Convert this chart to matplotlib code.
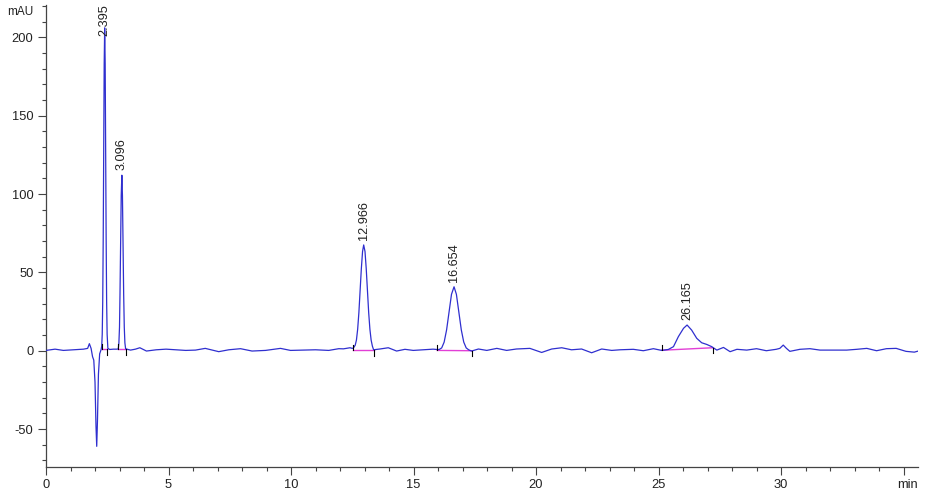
import matplotlib
matplotlib.use("Agg")
import matplotlib.pyplot as plt
from matplotlib.ticker import MultipleLocator

plt.rcParams['font.family'] = ['Liberation Sans', 'DejaVu Sans']
plt.rcParams['axes.unicode_minus'] = False

# chromatogram trace (time in min, signal in mAU)
time_min = [
    0.0, 0.37, 0.71, 1.12, 1.53, 1.70, 1.77, 1.84, 1.90, 1.95,
    2.00, 2.04, 2.07, 2.10, 2.14, 2.19, 2.25, 2.275,
    2.295, 2.315, 2.335, 2.355, 2.375, 2.395, 2.415, 2.435, 2.455, 2.475, 2.495, 2.525,
    2.60, 2.75, 2.90, 2.95, 2.975,
    3.00, 3.02, 3.045, 3.07, 3.096, 3.12, 3.145, 3.17, 3.195, 3.22, 3.25,
    3.45, 3.65, 3.83, 4.10, 4.5, 4.9, 5.3, 5.7, 6.1, 6.5, 7.05, 7.46, 7.94,
    8.41, 8.96, 9.57, 9.98, 10.46, 11.0, 11.54, 11.95, 12.14, 12.41, 12.50,
    12.55, 12.62, 12.67, 12.72, 12.77, 12.82, 12.87, 12.92, 12.966, 13.02,
    13.07, 13.12, 13.17, 13.22, 13.27, 13.32, 13.37,
    13.63, 13.97, 14.31, 14.65, 14.99, 15.4, 15.8, 15.95,
    16.05, 16.15, 16.25, 16.35, 16.45, 16.55, 16.654, 16.75, 16.85, 16.95,
    17.05, 17.15, 17.25, 17.37,
    17.65, 17.99, 18.4, 18.8, 19.2, 19.75, 20.23, 20.64, 21.05, 21.45, 21.86,
    22.27, 22.68, 23.09, 23.43, 23.97, 24.38, 24.79, 25.13, 25.40,
    25.61, 25.81, 26.02, 26.165, 26.35, 26.56, 26.76, 26.97, 27.17, 27.38,
    27.65, 27.92, 28.2, 28.6, 29.0, 29.4, 29.8, 29.95, 30.09, 30.22, 30.36,
    30.77, 31.18, 31.59, 32.13, 32.68, 33.09, 33.5, 33.9, 34.3, 34.7, 35.1,
    35.44, 35.65,
]
signal_mau = [
    0.2, 1.0, 0.2, 0.6, 1.0, 1.5, 4.5, 1.5, -3.8, -6,
    -20, -48, -61, -45, -15, -2, 0.8, 3,
    10.5, 31, 71, 128, 183, 206, 183, 128, 71, 31, 10.5, 1.5,
    0.8, 1.0, 1.0, 1.2, 5,
    15, 36, 68, 99, 112, 99, 68, 36, 15, 5, 1.2,
    0.4, 1.0, 1.9, -0.2, 0.6, 1.0, 0.6, 0.2, 0.4, 1.5, -0.6, 0.6, 1.3,
    -0.2, 0.2, 1.5, 0.2, 0.4, 0.6, 0.2, 1.3, 1.2, 1.9, 1.5,
    1.8, 3.5, 6.8, 13.7, 24.3, 38, 52.3, 63.3, 67.5, 63.3,
    52.3, 38, 24.3, 13.7, 6.8, 3, 0.6,
    1.1, 1.9, -0.2, 0.9, 0.2, 0.6, 1.0, 0.8,
    0.8, 1.8, 5.5, 13.3, 24.7, 36, 40.8, 36, 24.7, 13.3,
    5.5, 1.8, 0.6, -0.2,
    1.1, 0.2, 1.5, 0.2, 1.1, 1.5, -1.1, 1.1, 1.9, 0.6, 1.1,
    -1.3, 1.1, 0.2, 0.6, 0.9, 0.0, 1.3, 0.2, 0.8,
    2.6, 9, 14.3, 16.4, 13.2, 7.9, 5.1, 4.0, 2.6, 0.4,
    2.1, -0.6, 0.9, 0.4, 1.3, 0.0, 0.9, 1.5, 3.6, 1.5, -0.4,
    0.9, 1.3, 0.4, 0.4, 0.4, 0.9, 1.5, 0.0, 1.3, 1.5, -0.4,
    -0.9, 0.0,
]

# integrated peaks
peak_rt = [2.395, 3.096, 12.966, 16.654, 26.165]
peak_height = [206, 112, 67.5, 40.8, 16.4]

# integration baselines (start t, start mAU, end t, end mAU)
base_t0 = [2.27, 2.95, 12.53, 15.97, 25.13]
base_v0 = [0.9, 0.9, 0.3, 0.2, 0.3]
base_t1 = [2.51, 3.27, 13.39, 17.37, 27.21]
base_v1 = [0.9, 0.9, 0.3, 0.0, 1.9]

fig = plt.figure(figsize=(9.35, 4.95), dpi=100)
ax = fig.add_axes([46 / 935, 1 - 466.7 / 495, (918 - 46) / 935, (466.7 - 5) / 495])

ax.plot(time_min, signal_mau, color='#2f2fcf', lw=0.9, zorder=3)

tick_h = 3.5
for t0, v0, t1, v1 in zip(base_t0, base_v0, base_t1, base_v1):
    ax.plot([t0, t1], [v0, v1], color='#e23fd6', lw=1.0, zorder=2)
    ax.plot([t0, t0], [v0, v0 + tick_h], color='black', lw=0.8, zorder=4)
    ax.plot([t1, t1], [v1, v1 - tick_h], color='black', lw=0.8, zorder=4)

for rt, h in zip(peak_rt, peak_height):
    ax.text(rt, min(h + 3, 201), f"{rt:.3f}", rotation=90, ha='center', va='bottom',
            fontsize=9.2, color='#222222', zorder=5)

ax.set_xlim(0, 35.59)
ax.set_ylim(-74, 220.6)

ax.xaxis.set_major_locator(MultipleLocator(5))
ax.xaxis.set_minor_locator(MultipleLocator(1))
ax.yaxis.set_major_locator(MultipleLocator(50))
ax.yaxis.set_minor_locator(MultipleLocator(10))

xt = [0, 5, 10, 15, 20, 25, 30, 35]
ax.set_xticks(xt)
ax.set_xticklabels([str(v) for v in xt[:-1]] + [''])

for s in ['top', 'right']:
    ax.spines[s].set_visible(False)
for s in ['left', 'bottom']:
    ax.spines[s].set_color('#444444')
    ax.spines[s].set_linewidth(0.9)

ax.tick_params(which='major', length=6, width=0.8, color='#444444', labelsize=9.3,
               labelcolor='#222222', pad=3)
ax.tick_params(which='minor', length=3, width=0.8, color='#444444')

ax.text(1.0, -0.027, "min", transform=ax.transAxes, ha='right', va='top',
        fontsize=9.3, color='#222222')
fig.text(33 / 935, 1 - 12 / 495, "mAU", ha='right', va='center', fontsize=8.5,
         color='#222222')

fig.savefig("out.png", dpi=100)
